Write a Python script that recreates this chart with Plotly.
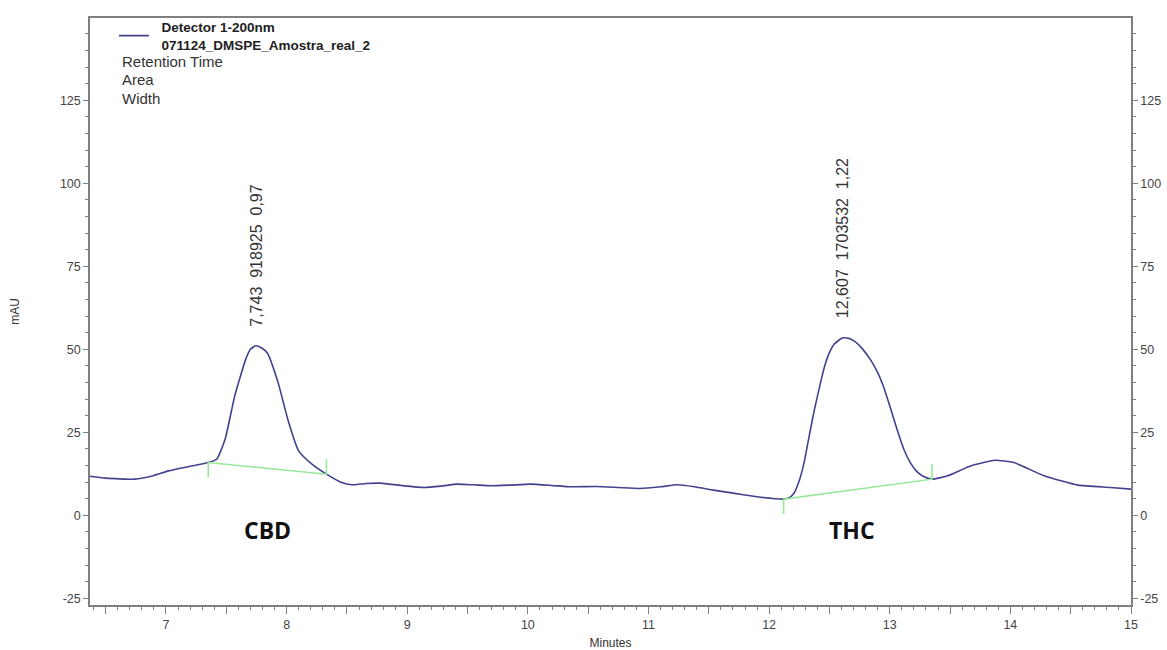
import plotly.graph_objects as go

# ---- data ----
time_min = [6.37, 6.50, 6.74, 6.90, 7.02, 7.20, 7.35, 7.42, 7.49, 7.57, 7.66, 7.70, 7.743, 7.79, 7.84,
            7.93, 8.01, 8.10, 8.21, 8.33, 8.45, 8.54, 8.66, 8.78, 8.95, 9.14, 9.28, 9.41, 9.55, 9.69,
            9.85, 10.02, 10.20, 10.35, 10.57, 10.75, 10.93, 11.10, 11.24, 11.38, 11.54, 11.70, 11.90,
            12.05, 12.12, 12.17, 12.21, 12.25, 12.29, 12.33, 12.37, 12.42, 12.46, 12.50, 12.54, 12.607,
            12.66, 12.71, 12.77, 12.84, 12.90, 12.95, 13.00, 13.06, 13.12, 13.17, 13.23, 13.28, 13.35,
            13.48, 13.67, 13.87, 14.03, 14.28, 14.56, 14.83, 15.0]
signal_mau = [11.8, 11.2, 10.9, 12.0, 13.4, 14.8, 15.9, 16.9, 22.9, 36.0, 46.9, 50.0, 51.1, 50.5, 48.9,
              39.9, 28.9, 19.4, 15.4, 12.4, 10.0, 9.2, 9.6, 9.7, 9.0, 8.4, 8.8, 9.4, 9.2, 8.9,
              9.1, 9.4, 9.0, 8.6, 8.7, 8.4, 8.1, 8.6, 9.2, 8.6, 7.6, 6.7, 5.6,
              5.0, 4.9, 5.4, 6.9, 10.5, 15.9, 23.5, 30.9, 39.0, 44.9, 49.0, 51.6, 53.4,
              53.3, 52.4, 50.3, 46.9, 43.0, 38.6, 33.0, 25.9, 19.6, 15.9, 13.0, 11.7, 10.9,
              11.9, 14.9, 16.6, 15.9, 11.9, 9.1, 8.4, 7.9]

peak_names = ["CBD", "THC"]
peak_rt = [7.743, 12.607]
peak_height = [51.1, 53.4]
peak_area = ["918925", "1703532"]
peak_width = ["0,97", "1,22"]
baseline_start_t = [7.35, 12.12]
baseline_start_v = [15.9, 4.9]
baseline_end_t = [8.33, 13.35]
baseline_end_v = [12.4, 10.9]

x_tickvals = [6.5, 7, 7.5, 8, 8.5, 9, 9.5, 10, 10.5, 11, 11.5, 12, 12.5, 13, 13.5, 14, 14.5, 15]
x_ticktext = ["", "7", "", "8", "", "9", "", "10", "", "11", "", "12", "", "13", "", "14", "", "15"]
y_tickvals = [-25, 0, 25, 50, 75, 100, 125]
y_ticktext = ["-25", "0", "25", "50", "75", "100", "125"]

legend_title = ["Detector 1-200nm", "071124_DMSPE_Amostra_real_2"]
legend_extra = ["Retention Time", "Area", "Width"]

# ---- style ----
X_RANGE = [6.37, 15.0]
Y_RANGE = [-27.0, 149.8]
AXIS_COL = "#7f7f7f"
FONT_FAM = "Liberation Sans, Arial, sans-serif"
TICK_FONT = dict(family=FONT_FAM, size=12.5, color="#444444")
LINE_COL = "#42428f"
BASE_COL = "#95e895"
MARK_LEN = 4.5
PAD = "\u00a0\u00a0"

fig = go.Figure()

fig.add_trace(go.Scatter(
    x=time_min, y=signal_mau, mode="lines",
    line=dict(color=LINE_COL, width=1.6, shape="spline", smoothing=0.5),
    name="<b>" + PAD + legend_title[0] + "<br>" + PAD + legend_title[1] + "</b>",
    showlegend=True, hoverinfo="x+y"))

for i in range(len(peak_names)):
    bx = [baseline_start_t[i], baseline_start_t[i], baseline_end_t[i], baseline_end_t[i]]
    by = [baseline_start_v[i] - MARK_LEN, baseline_start_v[i], baseline_end_v[i], baseline_end_v[i] + MARK_LEN]
    fig.add_trace(go.Scatter(x=bx, y=by, mode="lines", line=dict(color=BASE_COL, width=1.6),
                             showlegend=False, hoverinfo="skip"))

# empty trace to carry the right-hand axis
fig.add_trace(go.Scatter(x=[], y=[], yaxis="y2", showlegend=False, hoverinfo="skip"))

label_offset = [5.0, 5.5]
name_dx = [0.0, -0.045]
for i in range(len(peak_names)):
    txt = "{}\u00a0\u00a0{}\u00a0\u00a0{}".format(f"{peak_rt[i]:.3f}".replace(".", ","), peak_area[i], peak_width[i])
    fig.add_annotation(x=peak_rt[i], y=peak_height[i] + label_offset[i], xref="x", yref="y",
                       text=txt, textangle=-90, showarrow=False, xanchor="center", yanchor="bottom",
                       font=dict(family=FONT_FAM, size=16, color="#333333"))
    fig.add_annotation(x=(baseline_start_t[i] + baseline_end_t[i]) / 2 + name_dx[i], y=-4.5,
                       xref="x", yref="y",
                       text="<b>" + peak_names[i] + "</b>", showarrow=False,
                       xanchor="center", yanchor="middle",
                       font=dict(family="Open Sans, Noto Sans, sans-serif", size=23, color="#111111"))

extra_y = [0.926, 0.895, 0.863]
for lbl, yy in zip(legend_extra, extra_y):
    fig.add_annotation(xref="paper", yref="paper", x=0.0288, y=yy, xanchor="left", yanchor="middle",
                       text=lbl, showarrow=False, align="left",
                       font=dict(family=FONT_FAM, size=15, color="#333333"))

axis_common = dict(showline=True, linecolor=AXIS_COL, linewidth=1.5, ticks="outside",
                   tickcolor=AXIS_COL, tickwidth=1, showgrid=False, zeroline=False,
                   tickfont=TICK_FONT, automargin=False)

fig.update_layout(
    width=1167, height=650,
    margin=dict(l=90, r=36, t=14, b=45),
    paper_bgcolor="white", plot_bgcolor="white",
    showlegend=True,
    legend=dict(x=0.023, y=1.011, xanchor="left", yanchor="top", bgcolor="rgba(0,0,0,0)",
                font=dict(family=FONT_FAM, size=13.5, color="#222222"),
                borderwidth=0, tracegroupgap=0),
    xaxis=dict(range=X_RANGE, tickmode="array", tickvals=x_tickvals, ticktext=x_ticktext,
               ticklen=7, mirror=True, ticklabelstandoff=0,
               minor=dict(dtick=0.1, tick0=0, ticklen=3, ticks="outside", tickcolor=AXIS_COL, tickwidth=1),
               title=dict(text="Minutes", font=dict(family=FONT_FAM, size=12, color="#333333"), standoff=10),
               **axis_common),
    yaxis=dict(range=Y_RANGE, tickmode="array", tickvals=y_tickvals, ticktext=y_ticktext,
               ticklen=5,
               minor=dict(dtick=5, tick0=0, ticklen=3, ticks="outside", tickcolor=AXIS_COL, tickwidth=1),
               title=dict(text="mAU", font=dict(family=FONT_FAM, size=12, color="#333333"), standoff=38),
               **axis_common),
    yaxis2=dict(range=Y_RANGE, overlaying="y", side="right", tickmode="array", tickvals=y_tickvals,
                ticktext=y_ticktext, ticklen=5,
                minor=dict(dtick=5, tick0=0, ticklen=3, ticks="outside", tickcolor=AXIS_COL, tickwidth=1),
                **axis_common),
)

fig.write_html("out.html")
